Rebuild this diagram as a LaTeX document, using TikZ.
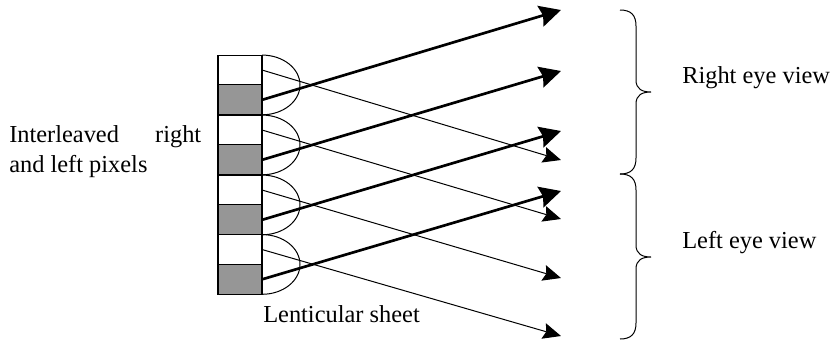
\documentclass[tikz,border=0pt]{standalone}
\usepackage{fontspec}
\setmainfont{Liberation Serif}
\usepackage{xcolor}
\usetikzlibrary{arrows.meta,positioning}
\definecolor{pixelgray}{HTML}{969696}

\begin{document}
\begin{tikzpicture}[
    x=0.75pt, y=-0.75pt,
    cell/.style={draw, line width=0.8pt, minimum width=33pt, minimum height=22.4pt, inner sep=0pt, outer sep=0pt},
    lens/.style={line width=0.75pt},
    bigarrow/.style={-{Stealth[length=16pt, width=16pt, inset=2pt]}, line width=2pt},
    thinarrow/.style={-{Stealth[length=13.5pt, width=12pt, inset=2pt]}, line width=0.75pt},
    brace/.style={line width=0.75pt},
    label/.style={font=\fontsize{18.3}{22}\selectfont, inner sep=0pt, anchor=base west}
  ]
    \useasboundingbox (0,0) rectangle (833,344);
    % pixel column, lenses and the rays
    \foreach \i/\y/\ty/\by in {1/70/10/160, 2/130/71/219, 3/190/131/278, 4/249.5/191/336} {
      \node[cell] (w\i) at (240,\y) {};
      \node[cell, fill=pixelgray, below=0pt of w\i] (g\i) {};
      \draw[lens] (w\i.north east) arc[start angle=90, end angle=-90, x radius=28.5pt, y radius=22.4pt];
      \coordinate (r\i) at (561,\ty);
      \coordinate (l\i) at (561,\by);
      \draw[thinarrow] (w\i.east) -- (l\i);
      \draw[bigarrow] (g\i.east) -- (r\i);
    }
    % braces
    \foreach \a/\b/\c/\n in {10/92/174/right, 174/257/339/left} {
      \coordinate (\n top) at (620,\a);
      \coordinate (\n tip) at (651,\b);
      \coordinate (\n end) at (620,\c);
      \draw[brace] (\n top) .. controls (631,\a) and (636,\a+5) .. (636,\a+16)
        -- (636,\b-12) .. controls (636,\b-3) and (642,\b) .. (\n tip)
        .. controls (642,\b) and (636,\b+3) .. (636,\b+12)
        -- (636,\c-16) .. controls (636,\c-5) and (631,\c) .. (\n end);
    }
    \node[label] (inter) at (9,142) {Interleaved};
    \node[label, anchor=base east] (rt) at (201.5,142) {right};
    \node[label] (andleft) at (9,172) {and left pixels};
    \node[label] (sheet) at (263,322) {Lenticular sheet};
    \node[label] (reye) at (682,83) {Right eye view};
    \node[label] (leye) at (682,248) {Left eye view};
  \end{tikzpicture}
\end{document}
